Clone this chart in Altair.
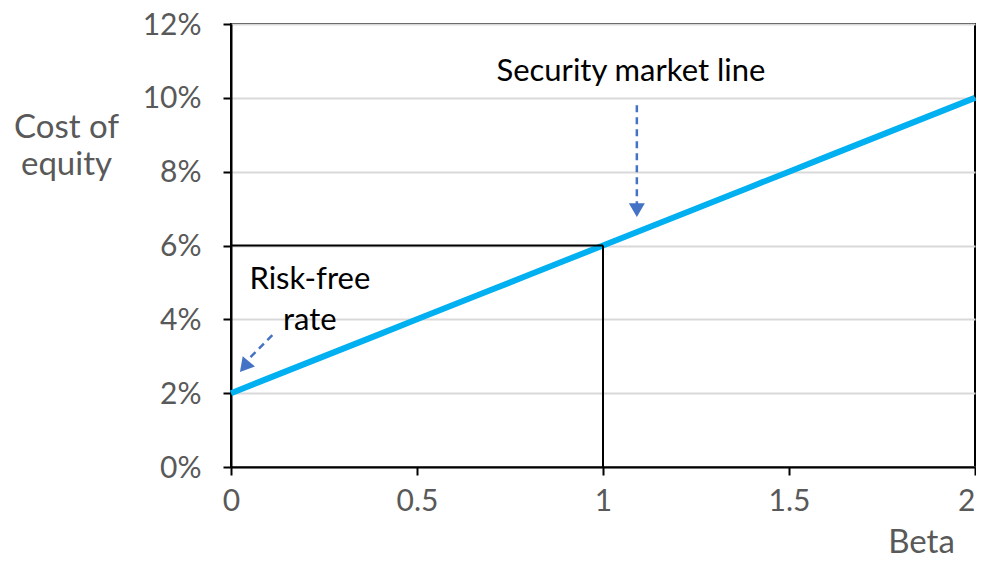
import altair as alt
import pandas as pd

# ---- data ----
beta = [0.0, 0.1, 0.2, 0.3, 0.4, 0.5, 0.6, 0.7, 0.8, 0.9, 1.0,
        1.1, 1.2, 1.3, 1.4, 1.5, 1.6, 1.7, 1.8, 1.9, 2.0]
cost = [0.020, 0.024, 0.028, 0.032, 0.036, 0.040, 0.044, 0.048, 0.052, 0.056, 0.060,
        0.064, 0.068, 0.072, 0.076, 0.080, 0.084, 0.088, 0.092, 0.096, 0.100]

x_ticks = [0, 0.5, 1, 1.5, 2]
y_ticks = [0, 0.02, 0.04, 0.06, 0.08, 0.10, 0.12]

# reference (black) lines at beta = 1, cost = 6%
ref_x = [0, 1]
ref_x2 = [1, 1]
ref_y = [0.06, 0.0]
ref_y2 = [0.06, 0.06]

# annotation texts
label_text = ["Security market line", "Risk-free\nrate"]
label_x = [1.075, 0.212]
label_y = [0.1070, 0.0507]

# dashed arrow shafts
arrow_x = [1.091, 0.111]
arrow_y = [0.0980, 0.03575]
arrow_x2 = [1.091, 0.048]
arrow_y2 = [0.0705, 0.0293]

# arrow heads
head_x = [1.091, 0.036]
head_y = [0.0696, 0.0272]
head_angle = [180, 220]

FONT = "Lato"
GRAY = "#595959"
BLUE = "#4472C4"
LINE = "#00B0F0"

sml = pd.DataFrame({"beta": beta, "cost": cost})
refs = pd.DataFrame({"beta": ref_x, "beta2": ref_x2, "cost": ref_y, "cost2": ref_y2})
labels = pd.DataFrame({"beta": label_x, "cost": label_y, "text": label_text})
arrows = pd.DataFrame({"beta": arrow_x, "cost": arrow_y, "beta2": arrow_x2, "cost2": arrow_y2})
heads = pd.DataFrame({"beta": head_x, "cost": head_y, "angle": head_angle})

xs = alt.Scale(domain=[0, 2], nice=False, zero=False)
ys = alt.Scale(domain=[0, 0.12], nice=False)

line = alt.Chart(sml).mark_line(color=LINE, strokeWidth=6).encode(
    x=alt.X("beta:Q", scale=xs,
            axis=alt.Axis(values=x_ticks, format="~g", title="Beta", grid=False,
                          labelBaseline="alphabetic", labelPadding=35,
                          labelAlign=alt.ExprRef("datum.value == 2 ? 'right' : 'center'"),
                          titleX=690, titleY=85, titleAlign="center",
                          titleBaseline="alphabetic", titleAnchor="start")),
    y=alt.Y("cost:Q", scale=ys,
            axis=alt.Axis(values=y_ticks, format=".0%", title=["Cost of", "equity"],
                          grid=True, gridColor="#d9d9d9", gridWidth=2,
                          labelPadding=22, labelBaseline="alphabetic", labelOffset=10,
                          titleAngle=0, titleX=-165, titleY=113, titleAlign="center",
                          titleBaseline="alphabetic", titleLineHeight=37,
                          titleAnchor="start")),
)

ref_rules = alt.Chart(refs).mark_rule(color="black", strokeWidth=2).encode(
    x=alt.X("beta:Q", scale=xs), x2="beta2:Q",
    y=alt.Y("cost:Q", scale=ys), y2="cost2:Q",
)

arrow_rules = alt.Chart(arrows).mark_rule(color=BLUE, strokeWidth=2.5, strokeDash=[7, 5]).encode(
    x=alt.X("beta:Q", scale=xs), x2="beta2:Q",
    y=alt.Y("cost:Q", scale=ys), y2="cost2:Q",
)

arrow_heads = alt.Chart(heads).mark_point(shape="triangle-up", filled=True, size=256,
                                           color=BLUE, opacity=1).encode(
    x=alt.X("beta:Q", scale=xs),
    y=alt.Y("cost:Q", scale=ys),
    angle=alt.Angle("angle:Q", scale=None),
)

texts = alt.Chart(labels).mark_text(font=FONT, fontSize=31, color="black",
                                    align="center", baseline="middle",
                                    lineBreak="\n", lineHeight=41).encode(
    x=alt.X("beta:Q", scale=xs),
    y=alt.Y("cost:Q", scale=ys),
    text="text:N",
)

chart = alt.layer(line, ref_rules, arrow_rules, arrow_heads, texts).properties(
    width=744, height=443,
    autosize=alt.AutoSizeParams(type="none"),
    padding={"left": 223, "top": 16, "right": 1, "bottom": 93},
    background="white",
).configure_view(
    stroke="black", strokeWidth=2,
).configure_axis(
    domainColor="black", domainWidth=2,
    tickColor="black", tickWidth=2, tickSize=8,
    labelFont=FONT, labelFontSize=30, labelColor=GRAY,
    titleFont=FONT, titleFontSize=33, titleColor=GRAY, titleFontWeight="normal",
)

chart.save("out.html", embed_options={"renderer": "svg", "actions": False})
